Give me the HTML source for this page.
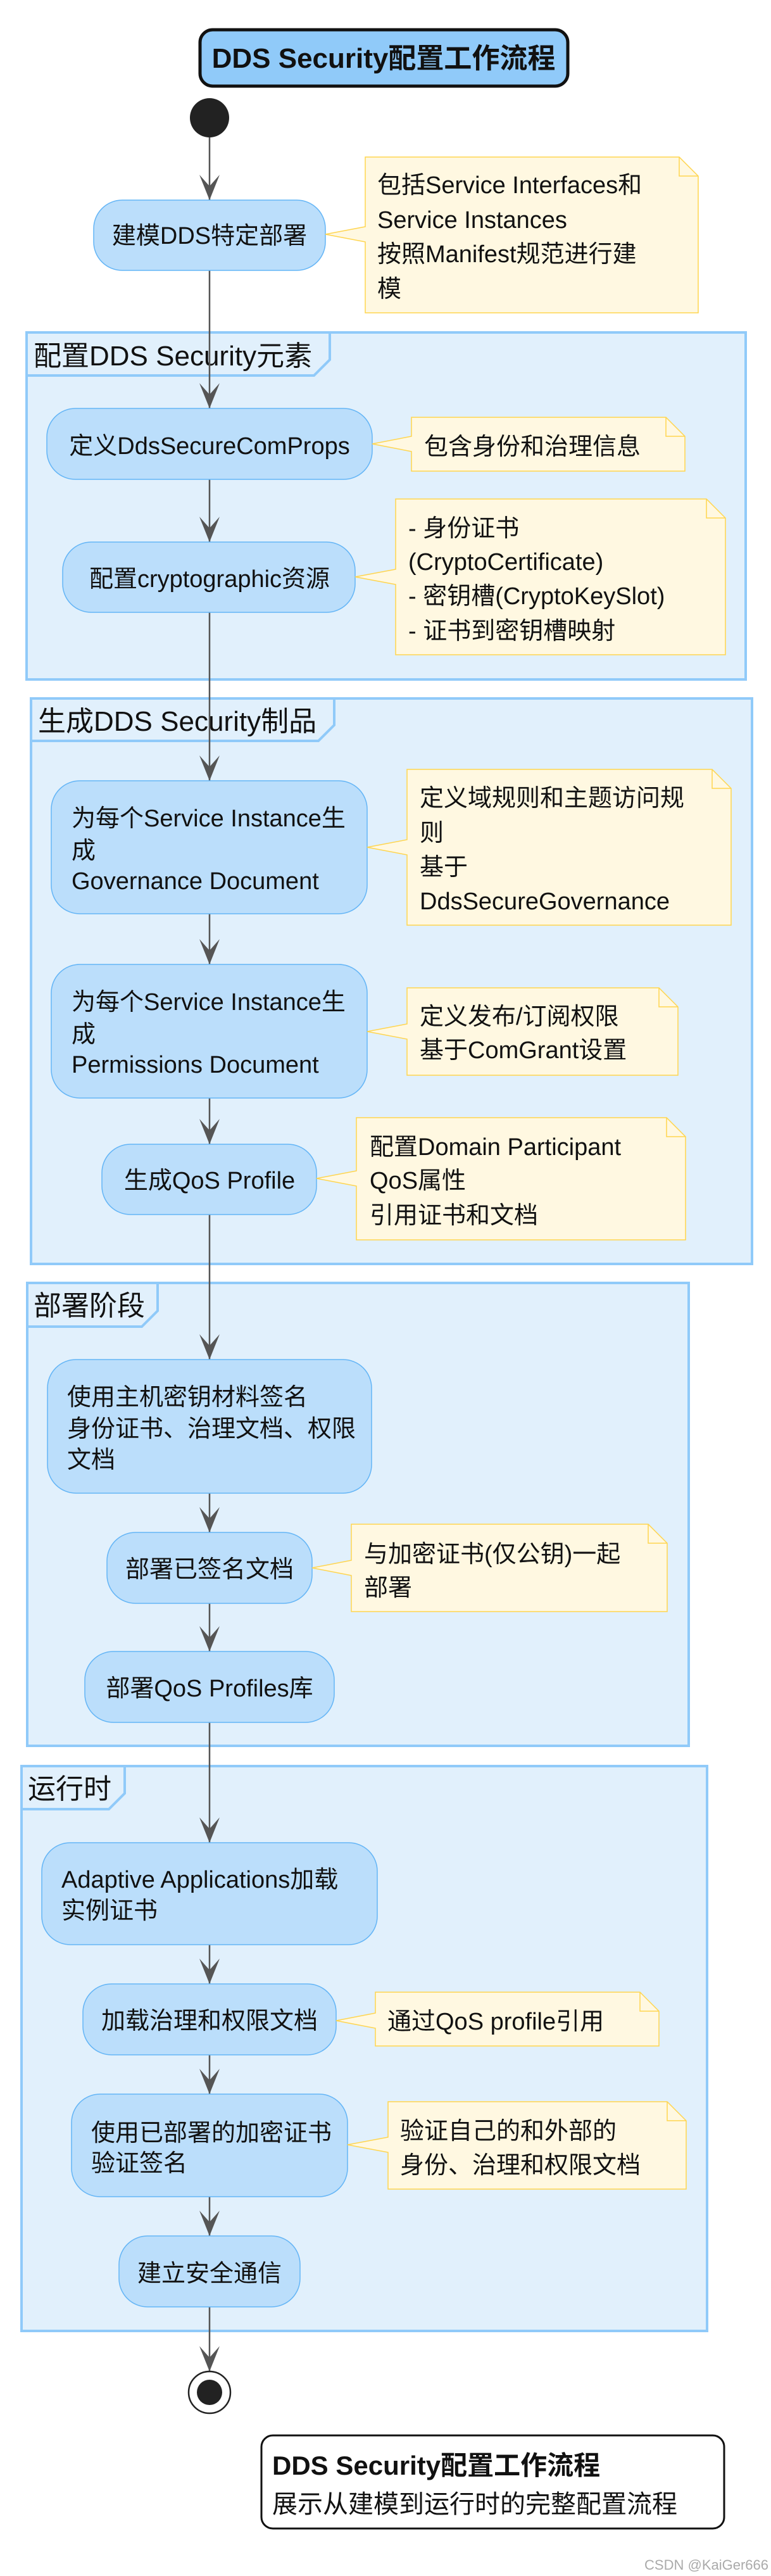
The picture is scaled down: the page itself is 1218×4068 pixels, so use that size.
<!DOCTYPE html>
<html><head><meta charset="utf-8"><style>
html,body{margin:0;padding:0;background:#fff;}
svg{display:block;}
text{font-family:"Liberation Sans","Noto Sans CJK SC",sans-serif;fill:#111;}
.n{font-size:38px;}
.g{font-size:44px;}
</style></head><body>
<svg width="1218" height="4068" viewBox="0 0 1218 4068" xmlns="http://www.w3.org/2000/svg">
<rect x="316" y="47" width="581" height="89" rx="20" fill="#90caf9" stroke="#111" stroke-width="5"/>
<text x="606" y="107" text-anchor="middle" style="font-size:44px;font-weight:bold">DDS Security配置工作流程</text>
<circle cx="331" cy="186" r="31" fill="#222"/>

<g fill="#e1f0fc" stroke="#90caf9" stroke-width="4">
<rect x="42" y="525" width="1136" height="548"/>
<rect x="49" y="1103" width="1139" height="893"/>
<rect x="43" y="2026" width="1045" height="731"/>
<rect x="34" y="2789" width="1083" height="892"/>
</g>
<g fill="none" stroke="#90caf9" stroke-width="4">
<path d="M42,593 L496,593 L521,568 L521,525"/>
<path d="M49,1170 L503,1170 L528,1145 L528,1103"/>
<path d="M43,2095 L224,2095 L249,2070 L249,2026"/>
<path d="M34,2857 L172,2857 L197,2832 L197,2789"/>
</g>
<text class="g" x="53" y="577">配置DDS Security元素</text>
<text class="g" x="60" y="1154">生成DDS Security制品</text>
<text class="g" x="53" y="2077">部署阶段</text>
<text class="g" x="44" y="2840">运行时</text>

<line x1="331" y1="217" x2="331" y2="3745" stroke="#555" stroke-width="2.5"/>
<g fill="#555">
<polygon points="331,316 315,276 331,294 347,276"/>
<polygon points="331,645 315,605 331,623 347,605"/>
<polygon points="331,856 315,816 331,834 347,816"/>
<polygon points="331,1233 315,1193 331,1211 347,1193"/>
<polygon points="331,1523 315,1483 331,1501 347,1483"/>
<polygon points="331,1807 315,1767 331,1785 347,1767"/>
<polygon points="331,2147 315,2107 331,2125 347,2107"/>
<polygon points="331,2420 315,2380 331,2398 347,2380"/>
<polygon points="331,2608 315,2568 331,2586 347,2568"/>
<polygon points="331,2910 315,2870 331,2888 347,2870"/>
<polygon points="331,3133 315,3093 331,3111 347,3093"/>
<polygon points="331,3307 315,3267 331,3285 347,3267"/>
<polygon points="331,3531 315,3491 331,3509 347,3491"/>
<polygon points="331,3745 315,3705 331,3723 347,3705"/>
</g>

<g fill="#bbdefb" stroke="#64b5f6" stroke-width="1.5">
<rect x="148" y="316" width="366" height="111" rx="45"/>
<rect x="74" y="645" width="514" height="112" rx="45"/>
<rect x="99" y="856" width="462" height="111" rx="45"/>
<rect x="81" y="1233" width="499" height="210" rx="45"/>
<rect x="81" y="1523" width="499" height="211" rx="45"/>
<rect x="161" y="1807" width="339" height="111" rx="45"/>
<rect x="75" y="2147" width="512" height="211" rx="45"/>
<rect x="169" y="2420" width="324" height="112" rx="45"/>
<rect x="134" y="2608" width="394" height="112" rx="45"/>
<rect x="66" y="2910" width="530" height="161" rx="45"/>
<rect x="131" y="3133" width="400" height="112" rx="45"/>
<rect x="113" y="3307" width="436" height="162" rx="45"/>
<rect x="188" y="3531" width="286" height="112" rx="45"/>
</g>
<g>
<text class="n" x="331" y="385" text-anchor="middle">建模DDS特定部署</text>
<text class="n" x="331" y="717" text-anchor="middle">定义DdsSecureComProps</text>
<text class="n" x="331" y="927" text-anchor="middle">配置cryptographic资源</text>
<text class="n" x="113" y="1305">为每个Service Instance生</text>
<text class="n" x="113" y="1356">成</text>
<text class="n" x="113" y="1404">Governance Document</text>
<text class="n" x="113" y="1595">为每个Service Instance生</text>
<text class="n" x="113" y="1646">成</text>
<text class="n" x="113" y="1694">Permissions Document</text>
<text class="n" x="331" y="1877" text-anchor="middle">生成QoS Profile</text>
<text class="n" x="106" y="2219">使用主机密钥材料签名</text>
<text class="n" x="106" y="2269">身份证书、治理文档、权限</text>
<text class="n" x="106" y="2318">文档</text>
<text class="n" x="331" y="2491" text-anchor="middle">部署已签名文档</text>
<text class="n" x="331" y="2679" text-anchor="middle">部署QoS Profiles库</text>
<text class="n" x="97" y="2981">Adaptive Applications加载</text>
<text class="n" x="97" y="3030">实例证书</text>
<text class="n" x="331" y="3204" text-anchor="middle">加载治理和权限文档</text>
<text class="n" x="144" y="3381">使用已部署的加密证书</text>
<text class="n" x="144" y="3429">验证签名</text>
<text class="n" x="331" y="3603" text-anchor="middle">建立安全通信</text>
</g>

<g fill="#fff8e1" stroke="#ffd54f" stroke-width="1.5">
<path d="M577,248 L1073,248 L1103,278 L1103,494 L577,494 L577,382 L514,370 L577,358 Z"/>
<path d="M650,659 L1052,659 L1082,689 L1082,744 L650,744 L650,713 L588,701 L650,689 Z"/>
<path d="M625,788 L1116,788 L1146,818 L1146,1034 L625,1034 L625,923 L561,911 L625,899 Z"/>
<path d="M643,1215 L1125,1215 L1155,1245 L1155,1461 L643,1461 L643,1350 L580,1338 L643,1326 Z"/>
<path d="M643,1560 L1041,1560 L1071,1590 L1071,1698 L643,1698 L643,1641 L580,1629 L643,1617 Z"/>
<path d="M563,1765 L1053,1765 L1083,1795 L1083,1958 L563,1958 L563,1873 L500,1861 L563,1849 Z"/>
<path d="M555,2407 L1024,2407 L1054,2437 L1054,2545 L555,2545 L555,2488 L493,2476 L555,2464 Z"/>
<path d="M593,3146 L1011,3146 L1041,3176 L1041,3231 L593,3231 L593,3203 L531,3191 L593,3179 Z"/>
<path d="M613,3319 L1054,3319 L1084,3349 L1084,3457 L613,3457 L613,3399 L549,3387 L613,3375 Z"/>
</g>
<g fill="none" stroke="#ffd54f" stroke-width="1.5">
<path d="M1073,248 L1073,278 L1103,278"/>
<path d="M1052,659 L1052,689 L1082,689"/>
<path d="M1116,788 L1116,818 L1146,818"/>
<path d="M1125,1215 L1125,1245 L1155,1245"/>
<path d="M1041,1560 L1041,1590 L1071,1590"/>
<path d="M1053,1765 L1053,1795 L1083,1795"/>
<path d="M1024,2407 L1024,2437 L1054,2437"/>
<path d="M1011,3146 L1011,3176 L1041,3176"/>
<path d="M1054,3319 L1054,3349 L1084,3349"/>
</g>
<g>
<text class="n" x="596" y="305">包括Service Interfaces和</text>
<text class="n" x="596" y="360">Service Instances</text>
<text class="n" x="596" y="414">按照Manifest规范进行建</text>
<text class="n" x="596" y="469">模</text>
<text class="n" x="670" y="718">包含身份和治理信息</text>
<text class="n" x="645" y="847">- 身份证书</text>
<text class="n" x="645" y="900">(CryptoCertificate)</text>
<text class="n" x="645" y="954">- 密钥槽(CryptoKeySlot)</text>
<text class="n" x="645" y="1009">- 证书到密钥槽映射</text>
<text class="n" x="663" y="1273">定义域规则和主题访问规</text>
<text class="n" x="663" y="1328">则</text>
<text class="n" x="663" y="1382">基于</text>
<text class="n" x="663" y="1436">DdsSecureGovernance</text>
<text class="n" x="663" y="1618">定义发布/订阅权限</text>
<text class="n" x="663" y="1671">基于ComGrant设置</text>
<text class="n" x="584" y="1824">配置Domain Participant</text>
<text class="n" x="584" y="1877">QoS属性</text>
<text class="n" x="584" y="1932">引用证书和文档</text>
<text class="n" x="575" y="2467">与加密证书(仅公钥)一起</text>
<text class="n" x="575" y="2520">部署</text>
<text class="n" x="612" y="3205">通过QoS profile引用</text>
<text class="n" x="632" y="3378">验证自己的和外部的</text>
<text class="n" x="632" y="3432">身份、治理和权限文档</text>
</g>

<circle cx="331" cy="3778" r="33" fill="#fff" stroke="#222" stroke-width="2.5"/>
<circle cx="331" cy="3778" r="20" fill="#222"/>

<rect x="413" y="3846" width="731" height="147" rx="18" fill="#fff" stroke="#111" stroke-width="3"/>
<text x="430" y="3908" style="font-size:42px;font-weight:bold">DDS Security配置工作流程</text>
<text x="430" y="3968" style="font-size:40px">展示从建模到运行时的完整配置流程</text>

<text x="1214" y="4058" text-anchor="end" style="font-size:22px;fill:#aaa">CSDN @KaiGer666</text>
</svg>
</body></html>
